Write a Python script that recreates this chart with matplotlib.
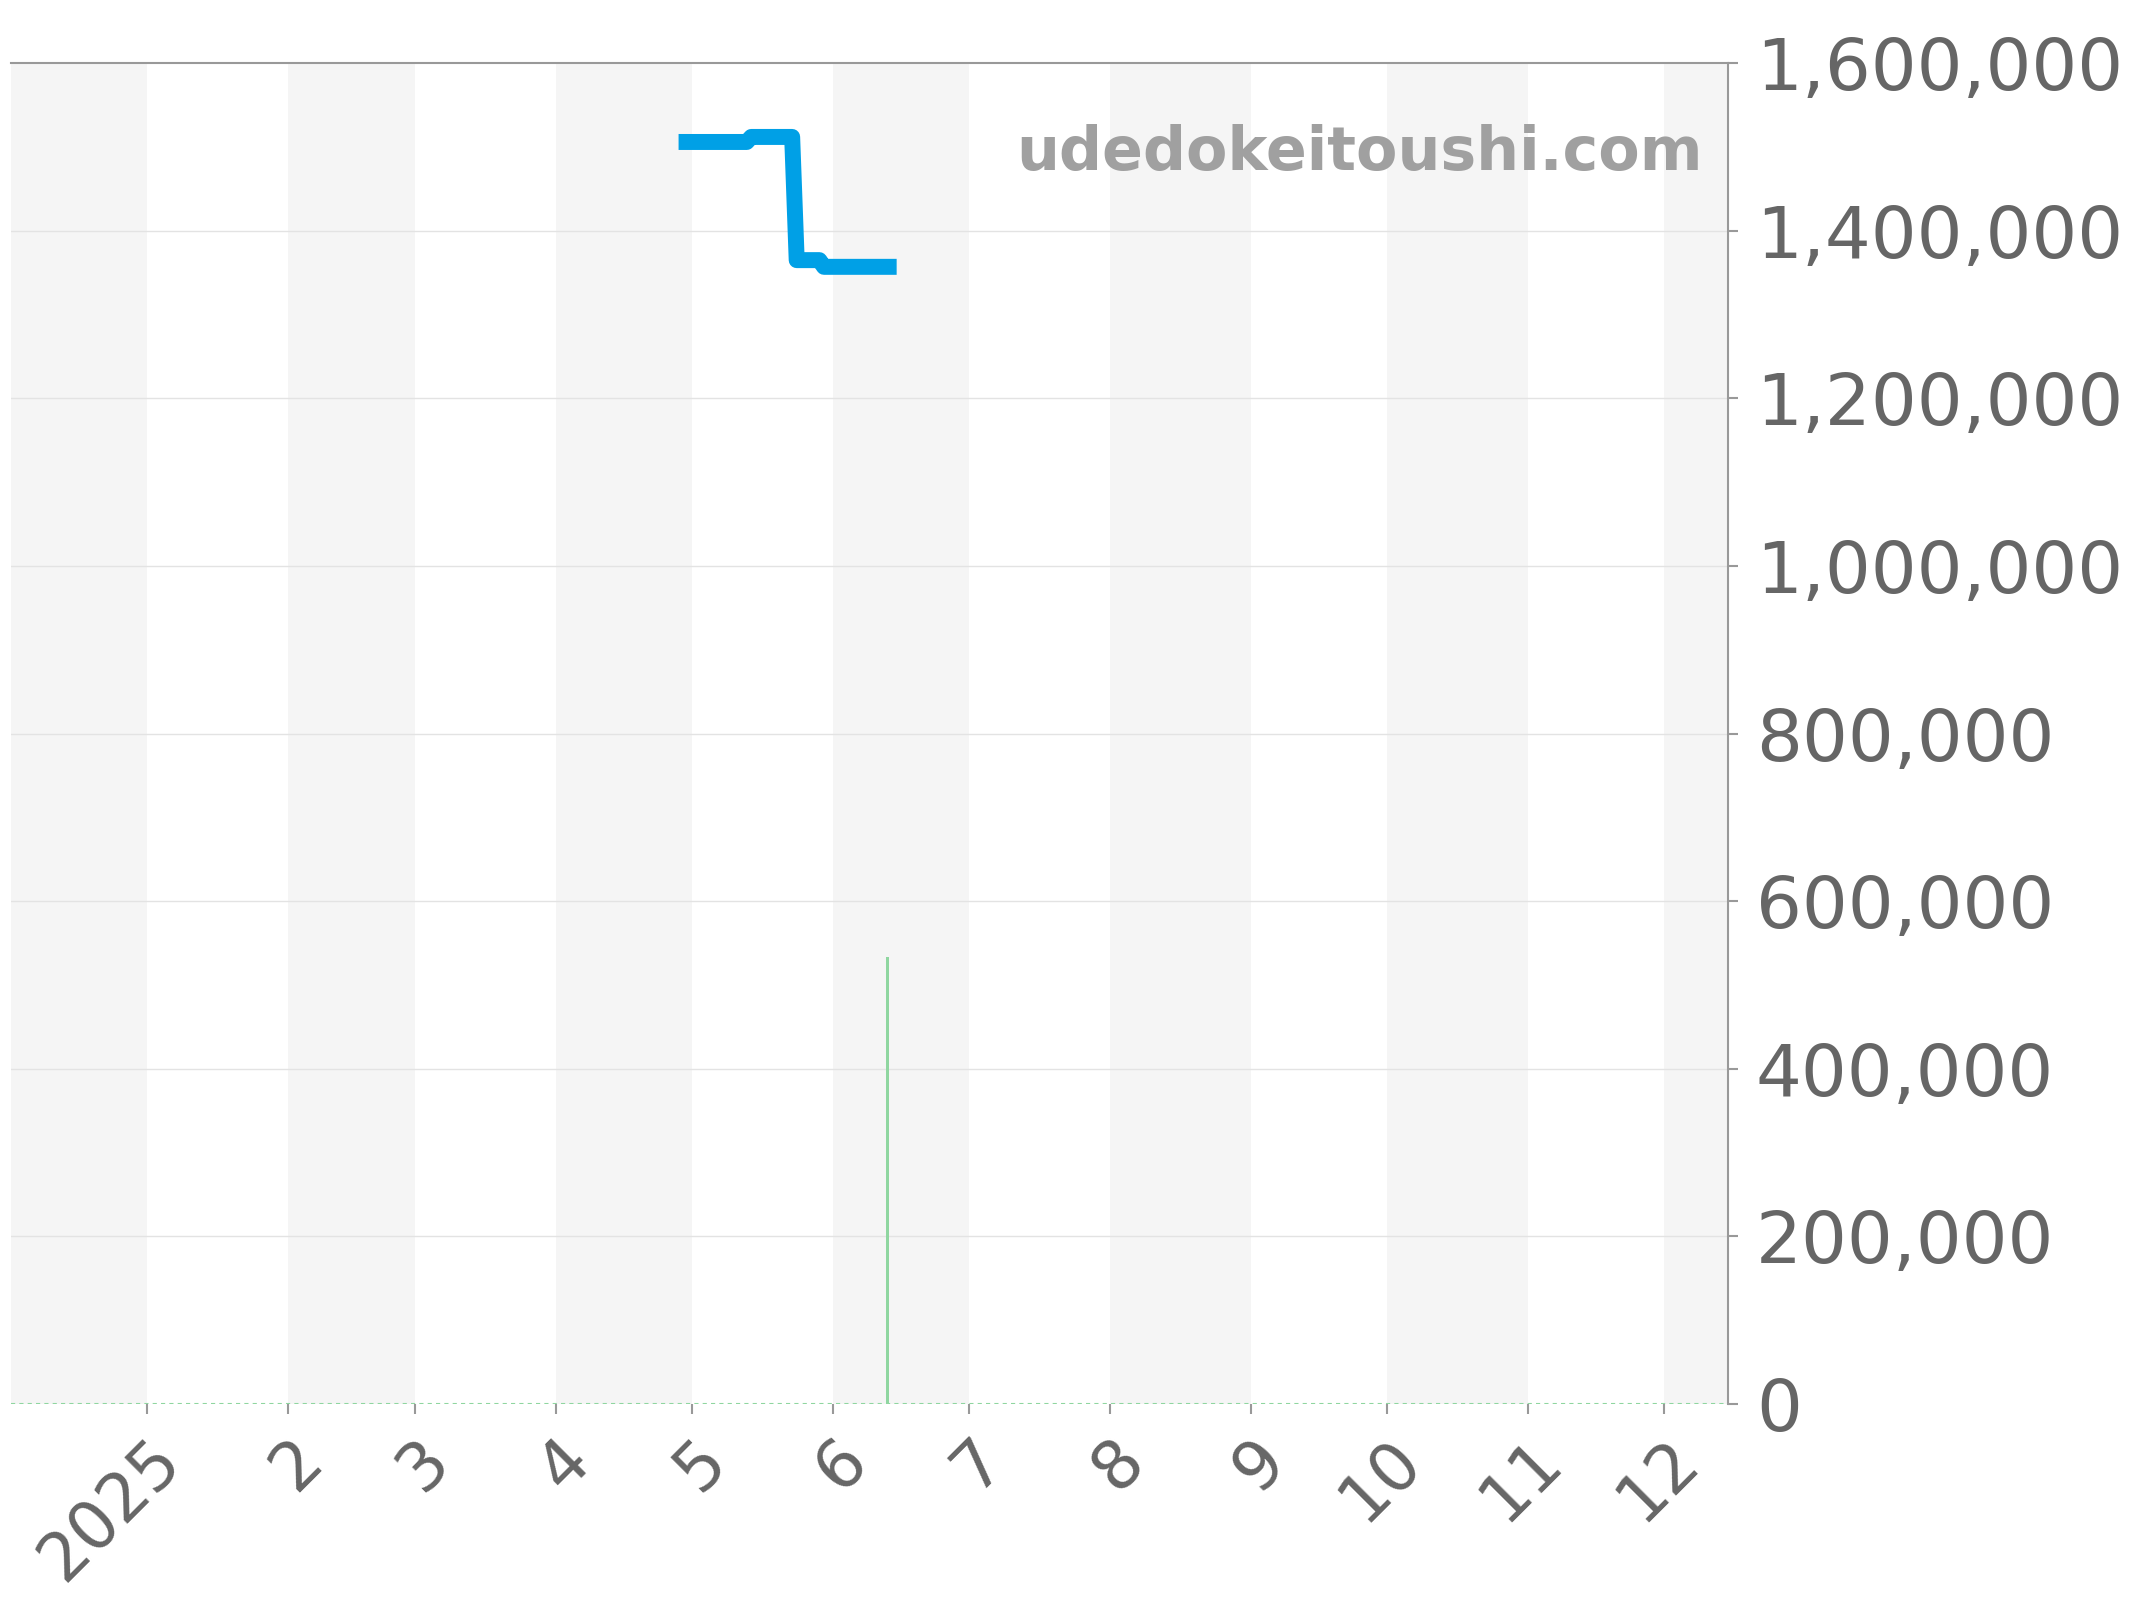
import matplotlib
matplotlib.use("Agg")
import matplotlib.pyplot as plt
import matplotlib.dates as mdates
from matplotlib.ticker import FuncFormatter
from datetime import date

# price series (change points)
price_dates = ["2025-04-28", "2025-05-13", "2025-05-14", "2025-05-23",
               "2025-05-24", "2025-05-29", "2025-05-30", "2025-06-15"]
price_values = [1506000, 1506000, 1512000, 1512000,
                1365000, 1365000, 1357000, 1357000]

# green bar series
bar_dates = ["2025-06-13"]
bar_values = [533000]

month_labels = ["2025", "2", "3", "4", "5", "6", "7", "8", "9", "10", "11", "12"]
y_ticks = [0, 200000, 400000, 600000, 800000, 1000000, 1200000, 1400000, 1600000]

to_num = lambda s: mdates.date2num(date.fromisoformat(s))

fig = plt.figure(figsize=(21.44, 16), dpi=100)
ax = fig.add_axes([0.005, 0.1225, 0.801, 0.838])

x0 = mdates.date2num(date(2024, 12, 2))
x1 = mdates.date2num(date(2025, 12, 15))

# alternating month bands
band_starts = [date(2024, 12, 1)] + [date(2025, m, 1) for m in range(2, 13, 2)]
for d in band_starts:
    m = d.month % 12 + 1
    y = d.year + (1 if d.month == 12 else 0)
    ax.axvspan(max(mdates.date2num(d), x0), mdates.date2num(date(y, m, 1)),
               color="#f5f5f5", lw=0, zorder=0)

for v in y_ticks[1:-1]:
    ax.axhline(v, color="#e3e3e3", lw=1, zorder=1)

ax.bar([to_num(s) for s in bar_dates], bar_values, width=0.65,
       color="#8fd6a0", zorder=2)
ax.axhline(0, color="#8fd6a0", lw=1.5, ls=(0, (2, 2)), zorder=2)

ax.plot([to_num(s) for s in price_dates], price_values, color="#00a0e6",
        lw=11.5, solid_joinstyle="round", solid_capstyle="butt", zorder=3)

ax.set_xlim(x0, x1)
ax.set_ylim(0, 1600000)

ticks = [mdates.date2num(date(2025, m, 1)) for m in range(1, 13)]
ax.set_xticks(ticks)
ax.set_xticklabels(month_labels, rotation=45, ha="right", rotation_mode="anchor")
ax.set_yticks(y_ticks)
ax.yaxis.set_major_formatter(FuncFormatter(lambda v, p: f"{int(v):,}"))
ax.yaxis.tick_right()

ax.tick_params(axis="y", labelsize=52, colors="#999999", labelcolor="#666666",
               length=7, width=1.5, pad=13)
ax.tick_params(axis="x", labelsize=48, colors="#999999", labelcolor="#666666",
               length=7, width=1.5, pad=9)

for side in ["left", "bottom"]:
    ax.spines[side].set_visible(False)
for side in ["top", "right"]:
    ax.spines[side].set_color("#999999")
    ax.spines[side].set_linewidth(1.5)

ax.text(0.985, 0.92, "udedokeitoushi.com", transform=ax.transAxes,
        ha="right", va="baseline", fontsize=43.4, fontweight="bold",
        color="#a0a0a0", zorder=4)

fig.savefig("out.png", dpi=100, facecolor="white")
